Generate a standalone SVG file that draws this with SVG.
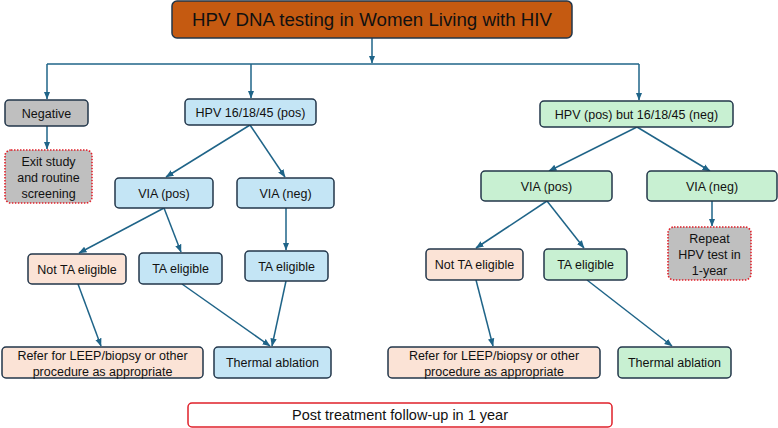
<svg xmlns="http://www.w3.org/2000/svg" width="778" height="428" viewBox="0 0 778 428">
<defs>
<marker id="ah" markerUnits="userSpaceOnUse" markerWidth="8" markerHeight="8" viewBox="0 0 8 8" refX="7.5" refY="4" orient="auto">
<path d="M0,0.8 L8,4 L0,7.2 Z" fill="#1f6488"/>
</marker>
<style>
rect{stroke:#22364a;stroke-width:1.5}
.t{font-family:"Liberation Sans",Arial,sans-serif;font-size:12.5px;fill:#111;text-anchor:middle}
.blue{fill:#c4e5f5}
.green{fill:#c8f0d2}
.peach{fill:#fbe3d6}
.grey{fill:#bfbfbf}
.dot{stroke:#e0202a;stroke-width:1.6;stroke-dasharray:1.5 1.5}
.conn path{fill:none;stroke:#1f6488;stroke-width:1.5}
.conn .a{marker-end:url(#ah)}
</style>
</defs>
<rect width="778" height="428" fill="#fff" style="stroke:none"/>
<g class="conn" id="connectors">
<path class="a" d="M372,38 V63"/>
<path d="M47,64 H639"/>
<path class="a" d="M47,64 V99"/>
<path class="a" d="M251,64 V98"/>
<path class="a" d="M639,64 V100"/>
<path class="a" d="M47,126 V149"/>
<path class="a" d="M250,125 L166,177"/>
<path class="a" d="M250,125 L285,177"/>
<path class="a" d="M164,208 L79,253"/>
<path class="a" d="M164,208 L181,252"/>
<path class="a" d="M286,208 V250"/>
<path class="a" d="M78,284 L101,346"/>
<path class="a" d="M182,284 L270,346"/>
<path class="a" d="M286,281 L272,346"/>
<path class="a" d="M637,127 L549,171"/>
<path class="a" d="M637,127 L710,171"/>
<path class="a" d="M547,201 L476,248"/>
<path class="a" d="M547,201 L584,248"/>
<path class="a" d="M712,201 V226"/>
<path class="a" d="M476,280 L493,346"/>
<path class="a" d="M587,280 L672,346"/>
</g>
<g id="title">
<rect x="172" y="1" width="400" height="37" rx="5" fill="#c55a11"/>
<text class="t" x="372" y="26" style="font-size:18.7px">HPV DNA testing in Women Living with HIV</text>
</g>
<g id="negative">
<rect class="grey" x="5" y="100" width="83" height="26" rx="4"/>
<text class="t" x="46.5" y="117.5">Negative</text>
</g>
<g id="exit">
<rect class="grey dot" x="5" y="150" width="87" height="53" rx="6"/>
<text class="t" x="48.5" y="165.5">Exit study</text>
<text class="t" x="48.5" y="181.5">and routine</text>
<text class="t" x="48.5" y="197.5">screening</text>
</g>
<g id="hpv161845">
<rect class="blue" x="185" y="99" width="131" height="26" rx="4"/>
<text class="t" x="250.5" y="116.5">HPV 16/18/45 (pos)</text>
</g>
<g id="via-pos-l">
<rect class="blue" x="115" y="178" width="98" height="30" rx="4"/>
<text class="t" x="164" y="197.5">VIA (pos)</text>
</g>
<g id="via-neg-l">
<rect class="blue" x="237" y="178" width="97" height="30" rx="4"/>
<text class="t" x="285.5" y="197.5">VIA (neg)</text>
</g>
<g id="not-ta-l">
<rect class="peach" x="28" y="254" width="98" height="30" rx="4"/>
<text class="t" x="77" y="273.5">Not TA eligible</text>
</g>
<g id="ta-l1">
<rect class="blue" x="139" y="253" width="83" height="31" rx="4"/>
<text class="t" x="180.5" y="273">TA eligible</text>
</g>
<g id="ta-l2">
<rect class="blue" x="245" y="251" width="83" height="30" rx="4"/>
<text class="t" x="286.5" y="270.5">TA eligible</text>
</g>
<g id="refer-l">
<rect class="peach" x="2" y="347" width="201" height="31" rx="4"/>
<text class="t" x="102.5" y="359.5">Refer for LEEP/biopsy or other</text>
<text class="t" x="102.5" y="375.5">procedure as appropriate</text>
</g>
<g id="thermal-l">
<rect class="blue" x="214" y="347" width="117" height="31" rx="4"/>
<text class="t" x="272.5" y="367">Thermal ablation</text>
</g>
<g id="hpv-other">
<rect class="green" x="540" y="101" width="193" height="26" rx="4"/>
<text class="t" x="636.5" y="118.5">HPV (pos) but 16/18/45 (neg)</text>
</g>
<g id="via-pos-r">
<rect class="green" x="481" y="171" width="131" height="30" rx="4"/>
<text class="t" x="546.5" y="190.5">VIA (pos)</text>
</g>
<g id="via-neg-r">
<rect class="green" x="647" y="171" width="130" height="30" rx="4"/>
<text class="t" x="712" y="190.5">VIA (neg)</text>
</g>
<g id="repeat">
<rect class="grey dot" x="668" y="227" width="83" height="53" rx="6"/>
<text class="t" x="709.5" y="242.5">Repeat</text>
<text class="t" x="709.5" y="258.5">HPV test in</text>
<text class="t" x="709.5" y="274.5">1-year</text>
</g>
<g id="not-ta-r">
<rect class="peach" x="426" y="249" width="97" height="31" rx="4"/>
<text class="t" x="474.5" y="269">Not TA eligible</text>
</g>
<g id="ta-r">
<rect class="green" x="544" y="249" width="83" height="31" rx="4"/>
<text class="t" x="585.5" y="269">TA eligible</text>
</g>
<g id="refer-r">
<rect class="peach" x="388" y="347" width="212" height="31" rx="4"/>
<text class="t" x="494" y="359.5">Refer for LEEP/biopsy or other</text>
<text class="t" x="494" y="375.5">procedure as appropriate</text>
</g>
<g id="thermal-r">
<rect class="green" x="618" y="347" width="113" height="31" rx="4"/>
<text class="t" x="674.5" y="367">Thermal ablation</text>
</g>
<g id="followup">
<rect x="188" y="403" width="424" height="24" rx="4" fill="#fff" style="stroke:#e0202a;stroke-width:1.5"/>
<text class="t" x="400" y="420" style="font-size:14.5px">Post treatment follow-up in 1 year</text>
</g>
</svg>
